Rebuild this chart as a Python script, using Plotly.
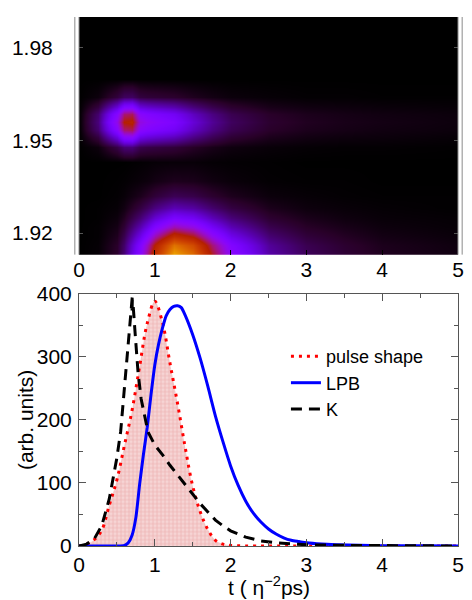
import math
import plotly.graph_objects as go

# ---------------- bottom panel data ----------------
t_pulse = [0, 0.1, 0.2, 0.3, 0.4, 0.5, 0.6, 0.7, 0.8, 0.9, 1.0, 1.1, 1.2, 1.3, 1.4,
           1.5, 1.6, 1.7, 1.8, 1.9, 2.0, 2.2, 2.5, 3.0, 3.5, 4.0, 4.5, 5.0]
pulse = [0, 3, 10, 25, 65, 105, 160, 215, 285, 353, 388, 355, 290, 226, 157,
         95, 54, 26, 9, 3, 1, 0, 0, 0, 0, 0, 0, 0]

t_k = [0, 0.1, 0.2, 0.3, 0.4, 0.45, 0.5, 0.55, 0.6, 0.65, 0.69, 0.705, 0.70, 0.715,
       0.74, 0.78, 0.82, 0.87, 0.91, 1.0, 1.1, 1.2, 1.3, 1.4, 1.5, 1.6, 1.7, 1.8,
       1.9, 2.0, 2.2, 2.4, 2.6, 2.8, 3.0, 3.5, 4.0, 4.5, 5.0]
k_vals = [0, 3, 11, 32, 75, 105, 140, 182, 250, 325, 385, 398, 372, 380,
          338, 274, 233, 202, 181, 160, 145, 128, 113, 98, 82, 67, 54, 41,
          32, 24, 14, 8, 5, 3, 2, 1, 0.4, 0.1, 0]

t_lpb = [0, 0.5, 0.6, 0.65, 0.7, 0.75, 0.8, 0.85, 0.9, 0.95, 1.0, 1.05, 1.1, 1.15,
         1.2, 1.25, 1.3, 1.35, 1.4, 1.5, 1.6, 1.7, 1.8, 1.9, 2.0, 2.1, 2.2, 2.3,
         2.4, 2.5, 2.6, 2.7, 2.8, 2.9, 3.0, 3.2, 3.4, 3.7, 4.0, 4.5, 5.0]
lpb = [0, 0, 1, 5, 17, 45, 98, 145, 188, 240, 287, 320, 345, 365,
       375, 380, 381, 378, 366, 335, 297, 253, 206, 165, 127, 96, 71, 52,
       38, 27, 19, 13, 9, 7, 5, 3, 2, 1, 0.5, 0.2, 0]

# ---------------- top panel data (intensity grid) ----------------
t_grid = [0, 0.25, 0.5, 0.6, 0.7, 0.8, 0.9, 1.0, 1.25, 1.5, 1.75, 2.0, 2.5, 3.0, 3.5, 4.0, 5.0]
e_grid = [1.912, 1.916, 1.919, 1.922, 1.925, 1.928, 1.932, 1.937, 1.943, 1.948,
          1.951, 1.9535, 1.956, 1.9585, 1.961, 1.964, 1.970, 1.990]
intensity = [
    [0, 0.004, 0.03, 0.08, 0.18, 0.29, 0.42, 0.60, 0.90, 0.78, 0.50, 0.30, 0.12, 0.06, 0.035, 0.02, 0.01],
    [0, 0.003, 0.026, 0.068, 0.153, 0.247, 0.357, 0.51, 0.765, 0.663, 0.425, 0.255, 0.102, 0.051, 0.03, 0.017, 0.009],
    [0, 0.002, 0.019, 0.05, 0.112, 0.18, 0.26, 0.372, 0.56, 0.484, 0.31, 0.186, 0.074, 0.037, 0.022, 0.012, 0.006],
    [0, 0.002, 0.013, 0.034, 0.076, 0.122, 0.176, 0.252, 0.378, 0.328, 0.21, 0.126, 0.05, 0.025, 0.015, 0.008, 0.004],
    [0, 0.001, 0.008, 0.021, 0.047, 0.075, 0.109, 0.156, 0.234, 0.203, 0.13, 0.078, 0.031, 0.016, 0.009, 0.005, 0.003],
    [0, 0.001, 0.004, 0.011, 0.025, 0.041, 0.059, 0.084, 0.126, 0.109, 0.07, 0.042, 0.017, 0.008, 0.005, 0.003, 0.001],
    [0, 0, 0.002, 0.005, 0.011, 0.017, 0.025, 0.036, 0.054, 0.047, 0.03, 0.018, 0.007, 0.004, 0.002, 0.001, 0.001],
    [0, 0, 0.001, 0.002, 0.004, 0.006, 0.008, 0.012, 0.018, 0.016, 0.01, 0.006, 0.002, 0.001, 0.001, 0, 0],
    [0, 0, 0, 0, 0.001, 0.002, 0.003, 0.004, 0.005, 0.005, 0.003, 0.002, 0.001, 0, 0, 0, 0],
    [0, 0.008, 0.045, 0.075, 0.078, 0.05, 0.045, 0.042, 0.036, 0.024, 0.015, 0.009, 0.005, 0.003, 0.002, 0.002, 0.001],
    [0, 0.04, 0.17, 0.275, 0.286, 0.182, 0.165, 0.154, 0.132, 0.088, 0.055, 0.033, 0.017, 0.011, 0.008, 0.007, 0.004],
    [0, 0.07, 0.27, 0.425, 0.442, 0.28, 0.255, 0.238, 0.204, 0.136, 0.085, 0.051, 0.026, 0.017, 0.013, 0.01, 0.007],
    [0, 0.08, 0.32, 0.50, 0.52, 0.33, 0.30, 0.28, 0.24, 0.16, 0.10, 0.06, 0.03, 0.02, 0.015, 0.012, 0.008],
    [0, 0.07, 0.27, 0.425, 0.442, 0.28, 0.255, 0.238, 0.204, 0.136, 0.085, 0.051, 0.026, 0.017, 0.013, 0.01, 0.007],
    [0, 0.04, 0.16, 0.25, 0.26, 0.165, 0.15, 0.14, 0.12, 0.08, 0.05, 0.03, 0.015, 0.01, 0.008, 0.006, 0.004],
    [0, 0.008, 0.038, 0.06, 0.062, 0.04, 0.036, 0.034, 0.029, 0.019, 0.012, 0.007, 0.004, 0.002, 0.002, 0.001, 0.001],
    [0] * 17,
    [0] * 17,
]

x_ticks = [0, 1, 2, 3, 4, 5]
e_ticks = [1.92, 1.95, 1.98]
y_ticks = [0, 100, 200, 300, 400]


# gnuplot-like "7,5,15" palette (style only)
def pal(x):
    r = math.sqrt(x)
    g = x ** 3
    b = max(math.sin(2 * math.pi * x), 0.0)
    return "rgb(%d,%d,%d)" % (round(255 * r), round(255 * g), round(255 * b))


stops = [i / 40 for i in range(41)]
colorscale = [[s, pal(s)] for s in stops]

fig = go.Figure()

fig.add_trace(go.Heatmap(
    x=t_grid, y=e_grid, z=intensity, zmin=0, zmax=1, zsmooth="best",
    colorscale=colorscale, showscale=False, xaxis="x", yaxis="y", hoverinfo="skip"))

# pulse fill
fig.add_trace(go.Scatter(
    x=t_pulse, y=pulse, mode="lines", line=dict(width=0, shape="spline"),
    fill="tozeroy", fillcolor="#f4cccc",
    fillpattern=dict(shape="+", bgcolor="#f6d4d4", fgcolor="#e79a9a", size=4, solidity=0.4),
    showlegend=False, xaxis="x2", yaxis="y2", hoverinfo="skip"))

fig.add_trace(go.Scatter(
    x=t_pulse, y=pulse, mode="lines", name="pulse shape",
    line=dict(color="#ff0000", width=3, dash="3px,5px", shape="spline"),
    xaxis="x2", yaxis="y2"))
fig.add_trace(go.Scatter(
    x=t_lpb, y=lpb, mode="lines", name="LPB",
    line=dict(color="#0000ff", width=3, shape="spline", smoothing=0.6),
    xaxis="x2", yaxis="y2"))
fig.add_trace(go.Scatter(
    x=t_k, y=k_vals, mode="lines", name="K",
    line=dict(color="#000000", width=3, dash="11px,7px"),
    xaxis="x2", yaxis="y2"))

font = dict(family="Liberation Sans, Arial, sans-serif", size=21, color="black")

frame_lines = []
for xp in (-0.011, 0.0, 1.0, 1.011):
    frame_lines.append(dict(type="line", xref="paper", yref="y domain",
                            x0=xp, x1=xp, y0=0, y1=1,
                            line=dict(color="#8a8a8a", width=1)))

fig.update_layout(
    width=472, height=600,
    margin=dict(l=79, r=14, t=5, b=54),
    paper_bgcolor="white", plot_bgcolor="white",
    font=font,
    showlegend=True,
    legend=dict(x=0.546, y=0.393, xanchor="left", yanchor="top",
                bgcolor="rgba(0,0,0,0)", font=dict(size=18), tracegroupgap=0),
    xaxis=dict(domain=[0, 1], anchor="y", range=[0, 5], tickvals=x_ticks,
               ticks="inside", ticklen=5, tickcolor="black", showgrid=False,
               zeroline=False, showline=False, tickfont=dict(size=21)),
    yaxis=dict(domain=[0.5508, 1], anchor="x", range=[1.913, 1.990], tickvals=e_ticks,
               ticktext=["1.92", "1.95", "1.98"], ticks="inside", ticklen=4,
               tickcolor="#555", showgrid=False, zeroline=False, showline=True,
               linecolor="white", linewidth=4, mirror="allticks",
               ticklabelstandoff=18, tickfont=dict(size=21)),
    xaxis2=dict(domain=[0, 1], anchor="y2", range=[0, 5], tickvals=x_ticks,
                ticks="inside", ticklen=7, tickcolor="#555", showgrid=False,
                zeroline=False, showline=True, linecolor="#555", linewidth=1,
                mirror="allticks",
                minor=dict(ticks="inside", ticklen=4, dtick=0.5, tickcolor="#555"),
                tickfont=dict(size=21)),
    yaxis2=dict(domain=[0, 0.4769], anchor="x2", range=[0, 400], tickvals=y_ticks,
                ticks="inside", ticklen=7, tickcolor="#555", showgrid=False,
                zeroline=False, showline=True, linecolor="#555", linewidth=1,
                mirror="allticks",
                minor=dict(ticks="inside", ticklen=4, dtick=50, tickcolor="#555"),
                ticklabelstandoff=2, tickfont=dict(size=21)),
    shapes=frame_lines,
    annotations=[
        dict(text="t ( \u03b7<sup>\u22122</sup>ps)", xref="paper", yref="paper",
             x=0.5, y=-0.076, xanchor="center", yanchor="middle", showarrow=False,
             font=dict(size=21)),
        dict(text="(arb. units)", xref="paper", yref="paper", textangle=-90,
             x=-0.1425, y=0.238, xanchor="center", yanchor="middle", showarrow=False,
             font=dict(size=21)),
    ],
)

fig.write_html("out.html")
